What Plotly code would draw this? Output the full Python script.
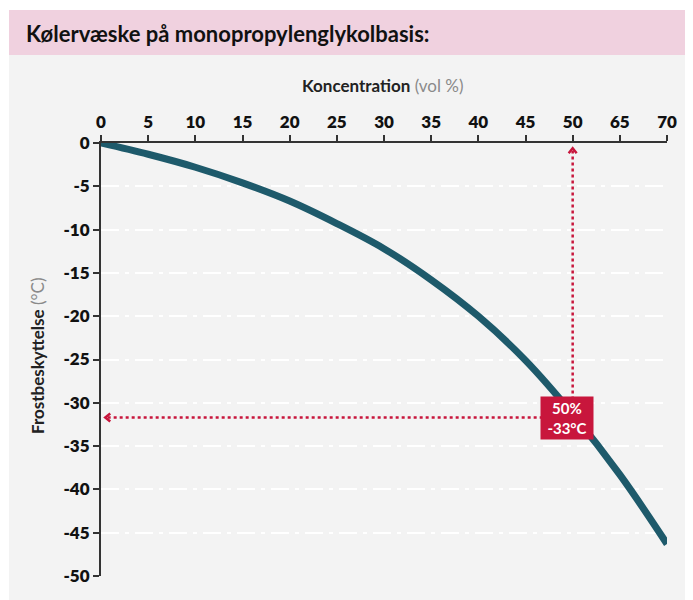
import plotly.graph_objects as go

# x positions on the (evenly spaced) concentration axis and their labels
tick_pos = [0, 5, 10, 15, 20, 25, 30, 35, 40, 45, 50, 55, 60]
tick_labels = ["0", "5", "10", "15", "20", "25", "30", "35", "40", "45", "50", "65", "70"]

# freezing protection curve
conc = [0, 5, 10, 15, 20, 25, 30, 35, 40, 45, 50, 55, 60]
frost = [0, -1.3, -2.8, -4.6, -6.7, -9.3, -12.2, -15.8, -20.0, -25.1, -31.3, -38.3, -46.3]

y_ticks = [0, -5, -10, -15, -20, -25, -30, -35, -40, -45, -50]
y_tick_labels = ["0", "-5", "-10", "-15", "-20", "-25", "-30", "-35", "-40", "-45", "-50"]

# highlighted reading
hl_x = 50
hl_y = -31.7
hl_text = "50%<br>-33°C"

# page body has an 8px margin, so the figure is drawn 8px smaller
OFF = 8
W, H = 693 - OFF, 600 - OFF
L, R, T, B = 101 - OFF, 26, 143 - OFF, 24
PINK = "#f0d1df"
PANEL = "#f3f3f3"
TEAL = "#1e5a6b"
RED = "#c8163c"
FONT = "Lato"


def px(x):
    # window pixel -> paper fraction
    return (x - OFF - L) / (W - L - R)


def py(y):
    return (H - B - (y - OFF)) / (H - T - B)


fig = go.Figure()

fig.add_trace(go.Scatter(
    x=conc, y=frost, mode="lines",
    line=dict(color=TEAL, width=7, shape="spline"),
    hoverinfo="skip", showlegend=False,
))

shapes = [
    # grey panel and pink header band
    dict(type="rect", xref="paper", yref="paper", x0=px(9), x1=px(700), y0=py(610), y1=py(55),
         fillcolor=PANEL, line=dict(width=0), layer="below"),
    dict(type="rect", xref="paper", yref="paper", x0=px(9), x1=px(700), y0=py(55), y1=py(10),
         fillcolor=PINK, line=dict(width=0), layer="below"),
    # dotted guides
    dict(type="line", xref="x", yref="y", x0=hl_x, x1=hl_x, y0=hl_y, y1=-0.9,
         line=dict(color=RED, width=2.5, dash="dot"), layer="above"),
    dict(type="line", xref="x", yref="y", x0=hl_x, x1=0.7, y0=hl_y, y1=hl_y,
         line=dict(color=RED, width=2.5, dash="dot"), layer="above"),
    # arrow heads
    dict(type="path", xref="x", yref="y", xsizemode="pixel", ysizemode="pixel",
         xanchor=hl_x, yanchor=-0.6, path="M-4,-5 L0,0 L4,-5",
         line=dict(color=RED, width=2.5), layer="above"),
    dict(type="path", xref="x", yref="y", xsizemode="pixel", ysizemode="pixel",
         xanchor=0.45, yanchor=hl_y, path="M5,4 L0,0 L5,-4",
         line=dict(color=RED, width=2.5), layer="above"),
]

annotations = [
    dict(text="<b>Kølervæske på monopropylenglykolbasis:</b>", xref="paper", yref="paper",
         x=px(24), y=py(33), xanchor="left", yanchor="middle", showarrow=False,
         font=dict(family=FONT, size=22, color="#111")),
    dict(text="<b>Koncentration</b> <span style='color:#8a8a8a'>(vol %)</span>",
         xref="paper", yref="paper", x=px(383), y=py(86), xanchor="center", yanchor="middle",
         showarrow=False, font=dict(family=FONT, size=17, color="#222")),
    dict(text="<b>Frostbeskyttelse</b> <span style='color:#8a8a8a'>(°C)</span>",
         xref="paper", yref="paper", x=px(37), y=py(356), xanchor="center", yanchor="middle",
         textangle=-90, showarrow=False, font=dict(family=FONT, size=17, color="#222")),
    dict(text="<b>" + hl_text + "</b>", x=hl_x, y=hl_y, xref="x", yref="y", xshift=-6,
         showarrow=False, bgcolor=RED, width=48, height=38, borderpad=2,
         font=dict(family=FONT, size=15, color="white")),
]

fig.update_layout(
    width=W, height=H,
    margin=dict(l=L, r=R, t=T, b=B, autoexpand=False),
    paper_bgcolor="white", plot_bgcolor=PANEL,
    shapes=shapes, annotations=annotations,
    showlegend=False,
    xaxis=dict(
        range=[0, 60], side="top", tickmode="array", tickvals=tick_pos, ticktext=tick_labels,
        showline=True, linecolor="#333", linewidth=2, ticks="outside", ticklen=6,
        tickwidth=2, tickcolor="#333", showgrid=False, zeroline=False,
        tickfont=dict(family=FONT, size=17, color="#111", weight=800),
    ),
    yaxis=dict(
        range=[-50, 0], tickmode="array", tickvals=y_ticks, ticktext=y_tick_labels,
        showline=True, linecolor="#333", linewidth=2, ticks="outside", ticklen=6,
        tickwidth=2, tickcolor="#333", zeroline=False,
        showgrid=True, gridcolor="white", gridwidth=2, griddash="18px,6px,4px,6px",
        tickfont=dict(family=FONT, size=17, color="#111", weight=800),
    ),
)

fig.write_html("out.html")
